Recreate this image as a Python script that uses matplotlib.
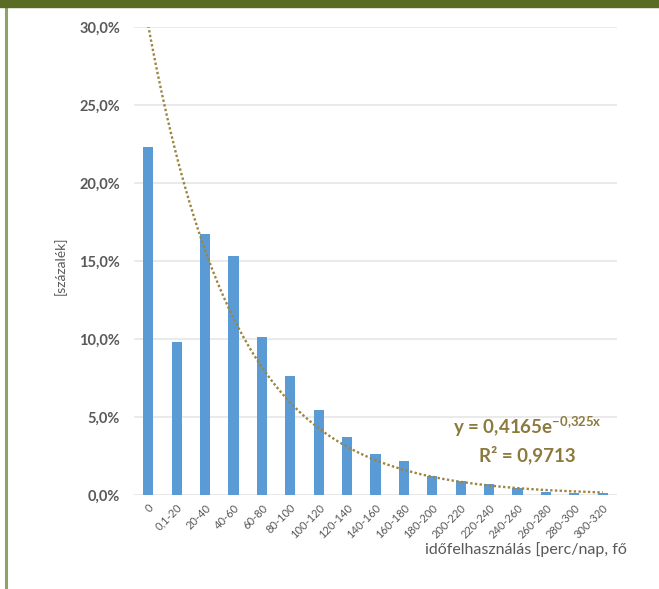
import numpy as np
import matplotlib
matplotlib.use('Agg')
from matplotlib import pyplot as plt
from matplotlib.patches import Rectangle
from matplotlib.lines import Line2D

categories = ['0', '0,1-20', '20-40', '40-60', '60-80', '80-100', '100-120', '120-140',
              '140-160', '160-180', '180-200', '200-220', '220-240', '240-260',
              '260-280', '280-300', '300-320']
values = [22.3, 9.8, 16.7, 15.3, 10.1, 7.6, 5.45, 3.7, 2.6, 2.2, 1.2, 0.9, 0.7, 0.45, 0.2, 0.1, 0.1]
trend_a = 0.4165
trend_b = -0.325
y_ticks = [0, 5, 10, 15, 20, 25, 30]

plt.rcParams['font.family'] = ['Lato', 'DejaVu Sans']

fig = plt.figure(figsize=(6.59, 5.89), dpi=100)
ax = fig.add_axes([134 / 659, 1 - 495 / 589, 483 / 659, 468 / 589])

x = np.arange(len(categories))
ax.bar(x, values, width=0.36, color='#5b9bd5', zorder=2)

# exponential trendline (Excel style, x = 1..n)
xt = np.linspace(0, len(categories) - 1, 200)
yt = trend_a * np.exp(trend_b * (xt + 1)) * 100
ax.plot(xt, yt, linestyle=(0, (1, 1)), color='#9c8540', lw=1.7, zorder=3)

ax.set_xlim(-0.5, len(categories) - 0.5)
ax.set_ylim(0, 30)
ax.set_yticks(y_ticks)
ax.set_yticklabels([f'{v:.1f}%'.replace('.', ',') for v in y_ticks],
                   fontsize=10.5, color='#595959', fontweight='bold')
ax.set_xticks(x)
ax.set_xticklabels(categories, rotation=45, ha='right', rotation_mode='anchor',
                   fontsize=8, color='#595959')
ax.tick_params(axis='y', length=0, pad=10)
ax.tick_params(axis='x', length=0, pad=5)
ax.yaxis.grid(True, color='#e6e6e6', lw=1.2, zorder=0)
for s in ax.spines.values():
    s.set_visible(False)
ax.axhline(0, color='#d9d9d9', lw=1, zorder=1)

ax.text(0.815, 0.13, 'y = 0,4165e$^{\\mathregular{-0{,}325x}}$', transform=ax.transAxes,
        ha='center', fontsize=13.5, color='#8c7a3c', fontweight='bold')
ax.text(0.815, 0.073, 'R² = 0,9713', transform=ax.transAxes, ha='center',
        fontsize=13.5, color='#8c7a3c', fontweight='bold')

fig.text(60 / 659, 1 - 266 / 589, '[százalék]', rotation=90, ha='center', va='center',
         fontsize=10, color='#595959')
fig.text(627 / 659, 1 - 550 / 589, 'időfelhasználás [perc/nap, fő', ha='right', va='center',
         fontsize=11.5, color='#595959')

# page frame
fig.patches.append(Rectangle((0, 1 - 7 / 589), 1, 7 / 589, transform=fig.transFigure,
                             color='#5a6b24', zorder=5))
fig.lines.append(Line2D([6 / 659, 6 / 659], [0, 1], transform=fig.transFigure,
                        color='#8fa368', lw=2.2, zorder=5))

fig.savefig('out.png', dpi=100)
